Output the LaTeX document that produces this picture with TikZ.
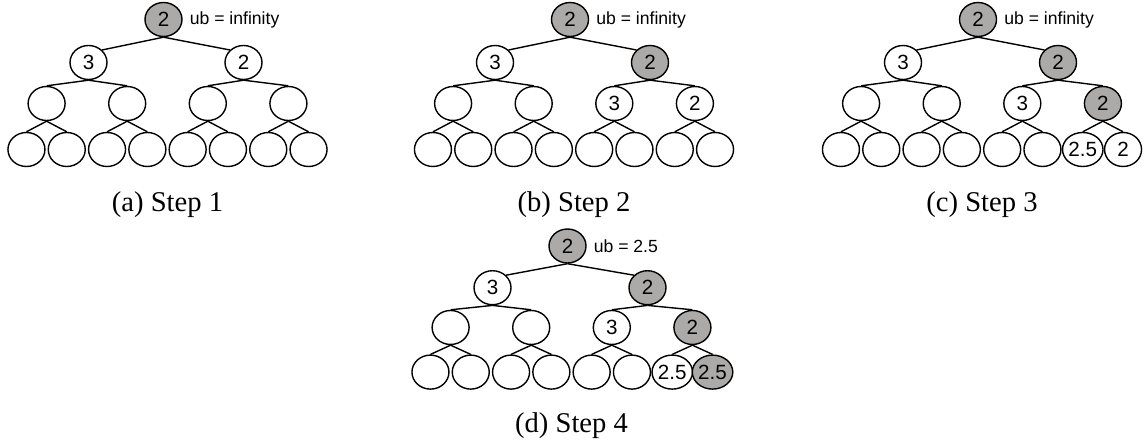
\documentclass[tikz,border=0pt]{standalone}
\usepackage{fontspec}
\setmainfont{Liberation Sans}
\newfontfamily\capfont{Liberation Serif}
\usetikzlibrary{shapes.geometric,positioning}
\definecolor{nodegray}{RGB}{172,170,168}

\begin{document}
\begin{tikzpicture}[
        x=0.5pt, y=-0.5pt,
        line width=0.7pt,
        declare function={
            Lone=43;
            Ltwo=84;
            Lthree=130;
            Lcap=192;
            Gap=40.3;
        },
        plain/.style={draw, ellipse, inner sep=0pt, minimum width=18.5pt, minimum height=17pt,
            font=\fontsize{10.3}{11}\selectfont},
        grey/.style={plain, fill=nodegray},
        ubtext/.style={inner sep=0pt, font=\fontsize{8.8}{10}\selectfont},
        caption/.style={anchor=base, inner sep=0pt, font=\capfont\fontsize{14.3}{17}\selectfont}
    ]
        \useasboundingbox (0,0) rectangle (1144,444);

        % step 1
        \begin{scope}[shift={(167.5,19.5)}]
            \node[grey] (a1) at (-4,0) {2};
            \node[ubtext, right=3.2pt of a1] (aub) {ub = infinity};
            \node[plain] (a2) at (-79,Lone) {3};
            \node[plain] (a3) at (76,Lone) {2};
            \foreach \i in {4,...,7} \node[plain] (a\i) at ({(\i-5.5)*2*Gap},Ltwo) {};
            \foreach \i in {8,...,15} \node[plain] (a\i) at ({(\i-11.5)*Gap},Lthree) {};
            \node[caption] (acap) at (0,Lcap) {(a) Step 1};
        \end{scope}

        % step 2
        \begin{scope}[shift={(574,19.5)}]
            \node[grey] (b1) at (-4,0) {2};
            \node[ubtext, right=3.2pt of b1] (bub) {ub = infinity};
            \node[plain] (b2) at (-79,Lone) {3};
            \node[grey] (b3) at (76,Lone) {2};
            \foreach \i in {4,5} \node[plain] (b\i) at ({(\i-5.5)*2*Gap},Ltwo) {};
            \node[plain] (b6) at ({0.5*2*Gap},Ltwo) {3};
            \node[plain] (b7) at ({1.5*2*Gap},Ltwo) {2};
            \foreach \i in {8,...,15} \node[plain] (b\i) at ({(\i-11.5)*Gap},Lthree) {};
            \node[caption] (bcap) at (0,Lcap) {(b) Step 2};
        \end{scope}

        % step 3
        \begin{scope}[shift={(982,19.5)}]
            \node[grey] (c1) at (-4,0) {2};
            \node[ubtext, right=3.2pt of c1] (cub) {ub = infinity};
            \node[plain] (c2) at (-79,Lone) {3};
            \node[grey] (c3) at (76,Lone) {2};
            \foreach \i in {4,5} \node[plain] (c\i) at ({(\i-5.5)*2*Gap},Ltwo) {};
            \node[plain] (c6) at ({0.5*2*Gap},Ltwo) {3};
            \node[grey] (c7) at ({1.5*2*Gap},Ltwo) {2};
            \foreach \i in {8,...,13} \node[plain] (c\i) at ({(\i-11.5)*Gap},Lthree) {};
            \node[plain] (c14) at ({2.5*Gap},Lthree) {2.5};
            \node[plain] (c15) at ({3.5*Gap},Lthree) {2};
            \node[caption] (ccap) at (0,Lcap) {(c) Step 3};
        \end{scope}

        % step 4
        \begin{scope}[shift={(571.5,246)}, yscale=0.97]
            \node[grey] (d1) at (-4,0) {2};
            \node[ubtext, right=3.2pt of d1] (dub) {ub = 2.5};
            \node[plain] (d2) at (-79,Lone) {3};
            \node[grey] (d3) at (76,Lone) {2};
            \foreach \i in {4,5} \node[plain] (d\i) at ({(\i-5.5)*2*Gap},Ltwo) {};
            \node[plain] (d6) at ({0.5*2*Gap},Ltwo) {3};
            \node[grey] (d7) at ({1.5*2*Gap},Ltwo) {2};
            \foreach \i in {8,...,13} \node[plain] (d\i) at ({(\i-11.5)*Gap},Lthree) {};
            \node[plain] (d14) at ({2.5*Gap},Lthree) {2.5};
            \node[grey] (d15) at ({3.5*Gap},Lthree) {2.5};
            \node[caption] (dcap) at (0,Lcap) {(d) Step 4};
        \end{scope}

        % edges, parent of node i is i/2
        \foreach \t in {a,b,c,d} {
            \draw (\t1.south) -- (\t2.north east);
            \draw (\t1.south) -- (\t3.north west);
            \foreach \c in {4,...,15} {
                \pgfmathtruncatemacro\p{\c/2}
                \draw (\t\p.south) -- (\t\c.north);
            }
        }
    \end{tikzpicture}
\end{document}
